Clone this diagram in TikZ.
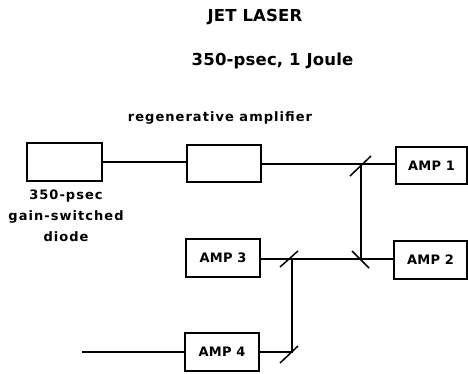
\documentclass[tikz,border=0pt]{standalone}
\usepackage{fontspec}
\usetikzlibrary{calc}
\newfontfamily\lblfont[LetterSpace=8]{DejaVu Sans Bold}
\newfontfamily\ampfont[LetterSpace=2]{DejaVu Sans Bold}
\newfontfamily\ttlfont[LetterSpace=1]{DejaVu Sans Bold}
\begin{document}
\begin{tikzpicture}[x=1pt,y=-1pt,
  boxnode/.style={draw,line width=1.5pt,inner sep=0pt,font=\ampfont\fontsize{13}{15}\selectfont},
  beam/.style={line width=1.4pt},
  mirror/.style={line width=1.5pt},
  lbl/.style={font=\lblfont\fontsize{13}{21}\selectfont,inner sep=0pt,align=center},
  ttl/.style={font=\ttlfont\fontsize{16.5}{19}\selectfont,inner sep=0pt}]
\useasboundingbox (0,0) rectangle (468,373);
% titles
\node[ttl] (t1) at (255,17) {JET LASER};
\node[ttl] (t2) at (272.5,61) {350-psec, 1 Joule};
\node[lbl] (rl) at (220,118) {regenerative amplifier};
% boxes
\node[boxnode,minimum width=75pt,minimum height=38pt] (diode) at (64.5,162) {};
\node[boxnode,minimum width=74pt,minimum height=37pt] (regen) at (224,163.5) {};
\node[boxnode,minimum width=71pt,minimum height=37pt] (amp1) at (431.5,165.5) {AMP 1};
\node[boxnode,minimum width=73pt,minimum height=38pt] (amp2) at (430.5,260) {AMP 2};
\node[boxnode,minimum width=74pt,minimum height=38pt] (amp3) at (223,258) {AMP 3};
\node[boxnode,minimum width=74pt,minimum height=38pt] (amp4) at (222,352) {AMP 4};
\node[lbl] (dlabel) at (66,216) {350-psec\\gain-switched\\diode};
% mirror positions
\coordinate (m1) at (361,164);
\coordinate (m2) at (361,259);
\coordinate (m3) at (292,259);
\coordinate (m4) at (292,352);
\coordinate (in) at (82,352);
% beams
\draw[beam] (diode.east |- 0,162) -- (regen.west |- 0,162);
\draw[beam] (regen.east |- m1) -- (m1) -- (amp1.west |- m1);
\draw[beam] (m1) -- (m2);
\draw[beam] (amp3.east |- m2) -- (amp2.west |- m2);
\draw[beam] (m3) -- (m4) -- (amp4.east |- m4);
\draw[beam] (in) -- (amp4.west |- in);
% mirrors
\draw[mirror] ($(m1)+(-11,12)$) -- ($(m1)+(10,-8)$);
\draw[mirror] ($(m2)+(-9,-8)$) -- ($(m2)+(8,9)$);
\draw[mirror] ($(m3)+(-12,8)$) -- ($(m3)+(6,-8)$);
\draw[mirror] ($(m4)+(-12,11)$) -- ($(m4)+(6,-6)$);
\end{tikzpicture}
\end{document}
